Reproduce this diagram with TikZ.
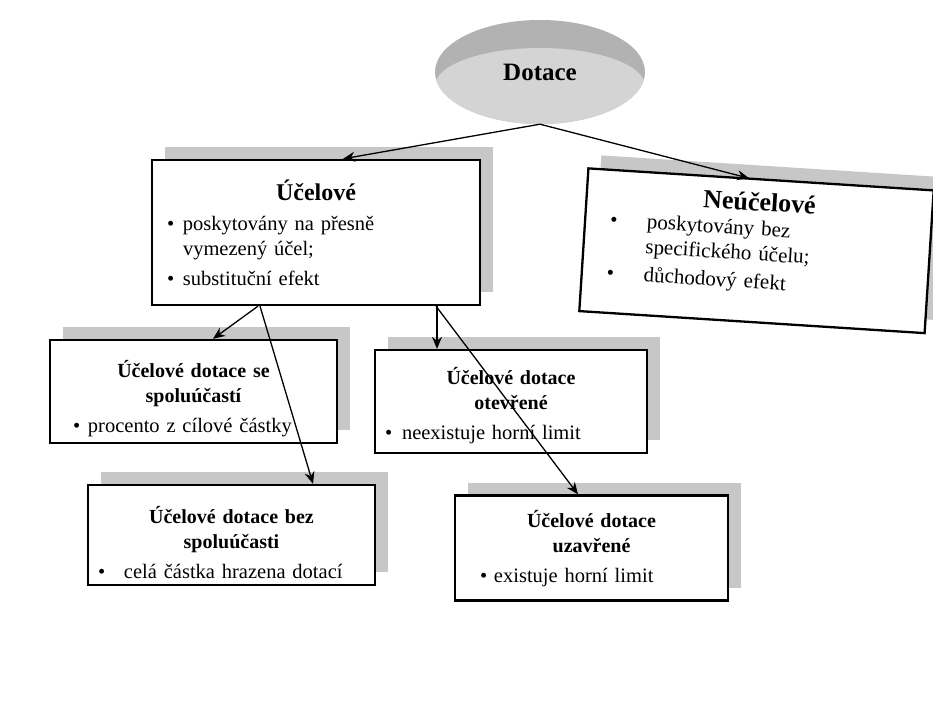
\documentclass[tikz,border=0pt]{standalone}
\usepackage{fontspec}
\setmainfont{Liberation Serif}
\usetikzlibrary{shapes.geometric,shadows,arrows.meta,calc}
\newcommand{\bitem}[3][5pt]{\par\vspace{#1}\raggedright\noindent\hangindent=#2\hangafter=1\makebox[#2][l]{\textbullet}#3}
\newcommand{\ttl}[3][18pt]{{\centering\fontsize{#2}{25}\selectfont\bfseries\rule{0pt}{#1}#3\par}}
\tikzset{
  cbox/.style={rectangle, draw, line width=2.3pt, fill=white,
    drop shadow={shadow xshift=13pt, shadow yshift=13pt, fill=black!22, opacity=1},
    inner ysep=4pt, font=\fontsize{20.5}{25}\selectfont},
  arr/.style={-{Stealth[length=12pt,width=10pt]}, line width=1.3pt}
}
\begin{document}
\begin{tikzpicture}[x=1pt,y=-1pt]
\fill[white] (0,0) rectangle (933,706);
\useasboundingbox (0,0) rectangle (933,706);
% Dotace disc
\fill[black!30] (540,72) ellipse [x radius=105, y radius=52];
\begin{scope}
  \clip (540,72) ellipse [x radius=105, y radius=52];
  \fill[black!17] (540,86) ellipse [x radius=105, y radius=38];
\end{scope}
\node[ellipse, minimum width=210pt, minimum height=104pt, inner sep=0pt] (dotace) at (540,72)
  {\raisebox{-5pt}{\fontsize{25}{30}\selectfont\bfseries Dotace}};
% boxes
\node[cbox, minimum width=328pt, minimum height=145pt, inner xsep=15pt, text width=298pt] (ucel) at (316,232.5)
  {\ttl{24}{Účelové}\bitem{16pt}{poskytovány na přesně\newline vymezený účel;}\bitem{16pt}{substituční efekt}};
\node[cbox, rotate=-3.65, minimum width=346pt, minimum height=143pt, inner xsep=25pt, text width=296pt,
  font=\fontsize{21}{25}\selectfont] (neucel) at (756.5,250.75)
  {\ttl{26}{Neúčelové}\bitem[0pt]{37pt}{poskytovány bez\newline specifického účelu;}\bitem[3pt]{37pt}{důchodový efekt}\par\kern16pt};
\node[cbox, minimum width=287pt, minimum height=103pt, inner xsep=23pt, text width=241pt] (spol) at (193.5,391.5)
  {\ttl[31pt]{20}{Účelové dotace se\\spoluúčastí}\bitem{15pt}{procento z cílové částky}};
\node[cbox, minimum width=272pt, minimum height=103pt, inner xsep=10pt, text width=252pt] (otev) at (511,401.5)
  {\ttl[25pt]{20}{Účelové dotace\\otevřené}\bitem{17pt}{neexistuje horní limit}};
\node[cbox, minimum width=287pt, minimum height=100pt, inner xsep=10pt, text width=267pt] (bez) at (231.5,535)
  {\ttl[33pt]{20}{Účelové dotace bez\\spoluúčasti}\bitem{26pt}{celá částka hrazena dotací}};
\node[cbox, minimum width=273pt, minimum height=105pt, inner xsep=25pt, text width=223pt] (uzav) at (591.5,548)
  {\ttl{20}{Účelové dotace\\uzavřené}\bitem{14pt}{existuje horní limit}};
% connectors
\draw[arr] (dotace.south) -- ($(ucel.north)+(27,0)$);
\draw[arr] (dotace.south) -- ($(neucel.north)+(-12,0)$);
\draw[arr] ($(ucel.south)+(-58,0)$) -- ($(spol.north)+(19.5,0)$);
\draw[arr] ($(ucel.south)+(-56,0)$) -- ($(bez.north)+(81.5,0)$);
\draw[arr] ($(ucel.south)+(121,0)$) -- ($(otev.north)+(-74,0)$);
\draw[arr] ($(ucel.south)+(120,0)$) -- ($(uzav.north)+(-13.5,0)$);
\end{tikzpicture}
\end{document}
